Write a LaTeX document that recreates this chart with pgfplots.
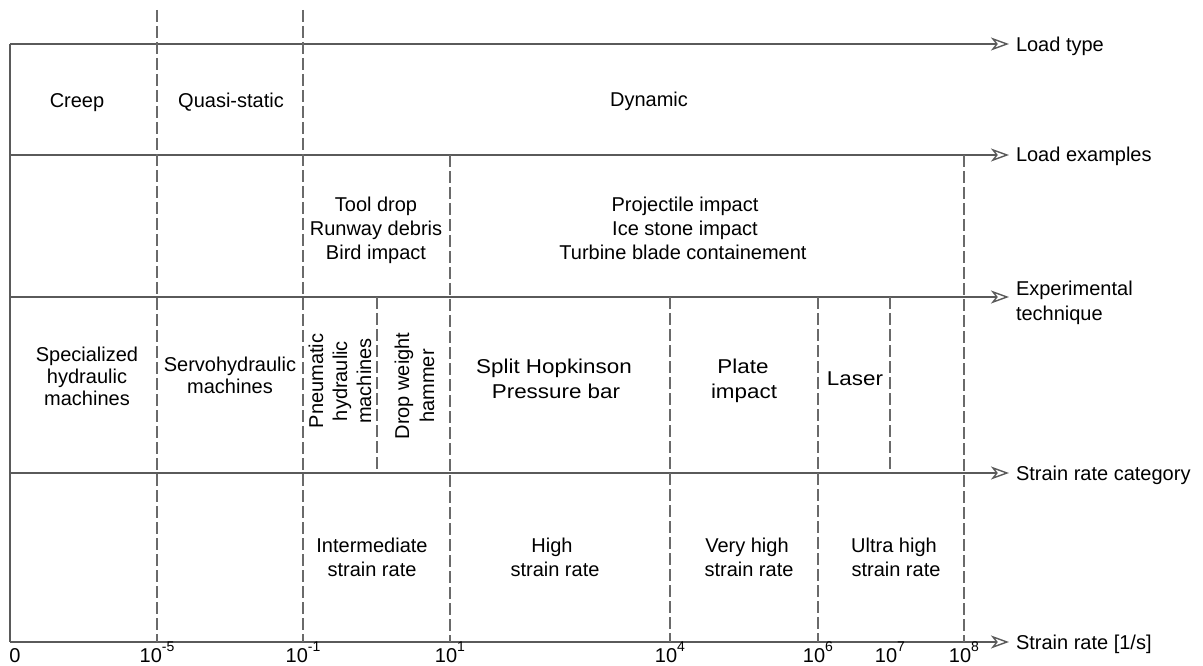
\documentclass[border=0pt]{standalone}
\usepackage{pgfplots}
\pgfplotsset{compat=1.18}
\usetikzlibrary{arrows.meta}
\usepackage{fontspec}
\setmainfont{Liberation Sans}
\definecolor{ln}{HTML}{5A5A5A}
\definecolor{dl}{HTML}{6A6A6A}
\newcommand{\pw}[1]{10\raisebox{11pt}{\fontsize{14}{14}\selectfont #1}}
\tikzset{
  lbl/.style={inner sep=0pt, outer sep=0pt, font=\fontsize{20}{24}\selectfont, text=black},
  wide/.style={lbl, xscale=1.12},
  hl/.style={ln, line width=1.4pt, -{Stealth[open, length=18pt, width=13pt, inset=5pt]}},
  vd/.style={dl, line width=1.1pt, dash pattern=on 12pt off 4pt},
}
\begin{document}
\begin{tikzpicture}
\begin{axis}[
  scale only axis, width=1203pt, height=666pt,
  xmin=0, xmax=1203, ymin=0, ymax=666, y dir=reverse,
  hide axis, clip=false,
]
% horizontal arrows (rows)
\addplot[hl] coordinates {(10,44) (1009,44)};
\addplot[hl] coordinates {(10,155) (1009,155)};
\addplot[hl] coordinates {(10,297) (1009,297)};
\addplot[hl] coordinates {(10,473) (1009,473)};
\addplot[hl] coordinates {(10,642) (1009,642)};
\addplot[ln, line width=1.4pt] coordinates {(10,44) (10,642)};
% dashed separators
\addplot[vd] coordinates {(157,10) (157,642)};
\addplot[vd] coordinates {(303,10) (303,642)};
\addplot[vd] coordinates {(450,155) (450,642)};
\addplot[vd] coordinates {(964,155) (964,642)};
\addplot[vd] coordinates {(670,297) (670,642)};
\addplot[vd] coordinates {(818,297) (818,642)};
\addplot[vd] coordinates {(377,297) (377,473)};
\addplot[vd] coordinates {(890,297) (890,473)};
% tick labels
\node[lbl, anchor=base] at (axis cs:15,662) {0};
\node[lbl, anchor=base] at (axis cs:157,662) {\pw{-5}};
\node[lbl, anchor=base] at (axis cs:303,662) {\pw{-1}};
\node[lbl, anchor=base] at (axis cs:450,662) {\pw{1}};
\node[lbl, anchor=base] at (axis cs:670,662) {\pw{4}};
\node[lbl, anchor=base] at (axis cs:818,662) {\pw{6}};
\node[lbl, anchor=base] at (axis cs:890,662) {\pw{7}};
\node[lbl, anchor=base] at (axis cs:964,662) {\pw{8}};
% row titles
\node[lbl, anchor=base west] at (axis cs:1016,52) {Load type};
\node[lbl, anchor=base west] at (axis cs:1016,162) {Load examples};
\node[lbl, anchor=base west] at (axis cs:1016,296) {Experimental};
\node[lbl, anchor=base west] at (axis cs:1016,320) {technique};
\node[lbl, anchor=base west] at (axis cs:1016,480) {Strain rate category};
\node[lbl, anchor=base west] at (axis cs:1016,649) {Strain rate [1/s]};
% load type
\node[lbl, anchor=base] at (axis cs:77,108) {Creep};
\node[lbl, anchor=base] at (axis cs:231,108) {Quasi-static};
\node[lbl, anchor=base] at (axis cs:649,107) {Dynamic};
% load examples
\node[lbl, anchor=base] at (axis cs:376,212) {Tool drop};
\node[lbl, anchor=base] at (axis cs:376,236) {Runway debris};
\node[lbl, anchor=base] at (axis cs:376,260) {Bird impact};
\node[lbl, anchor=base] at (axis cs:685,212) {Projectile impact};
\node[lbl, anchor=base] at (axis cs:685,236) {Ice stone impact};
\node[lbl, anchor=base] at (axis cs:683,260) {Turbine blade containement};
% experimental technique
\node[lbl, anchor=base] at (axis cs:87,361) {Specialized};
\node[lbl, anchor=base] at (axis cs:87,383) {hydraulic};
\node[lbl, anchor=base] at (axis cs:87,405) {machines};
\node[lbl, anchor=base] at (axis cs:230,371) {Servohydraulic};
\node[lbl, anchor=base] at (axis cs:230,393) {machines};
\node[lbl, anchor=base, rotate=90] at (axis cs:323,381) {Pneumatic};
\node[lbl, anchor=base, rotate=90] at (axis cs:347,381) {hydraulic};
\node[lbl, anchor=base, rotate=90] at (axis cs:371,381) {machines};
\node[lbl, anchor=base, rotate=90] at (axis cs:409,386) {Drop weight};
\node[lbl, anchor=base, rotate=90] at (axis cs:434,386) {hammer};
\node[wide, anchor=base] at (axis cs:554,373) {Split Hopkinson};
\node[wide, anchor=base] at (axis cs:556,398) {Pressure bar};
\node[wide, anchor=base] at (axis cs:743,373) {Plate};
\node[wide, anchor=base] at (axis cs:744,398) {impact};
\node[wide, anchor=base] at (axis cs:855,385) {Laser};
% strain rate category
\node[lbl, anchor=base] at (axis cs:372,552) {Intermediate};
\node[lbl, anchor=base] at (axis cs:372,576) {strain rate};
\node[lbl, anchor=base] at (axis cs:552,552) {High};
\node[lbl, anchor=base] at (axis cs:555,576) {strain rate};
\node[lbl, anchor=base] at (axis cs:747,552) {Very high};
\node[lbl, anchor=base] at (axis cs:749,576) {strain rate};
\node[lbl, anchor=base] at (axis cs:894,552) {Ultra high};
\node[lbl, anchor=base] at (axis cs:896,576) {strain rate};
\end{axis}
\path (current axis.south west) rectangle (current axis.north east);
\end{tikzpicture}
\end{document}
